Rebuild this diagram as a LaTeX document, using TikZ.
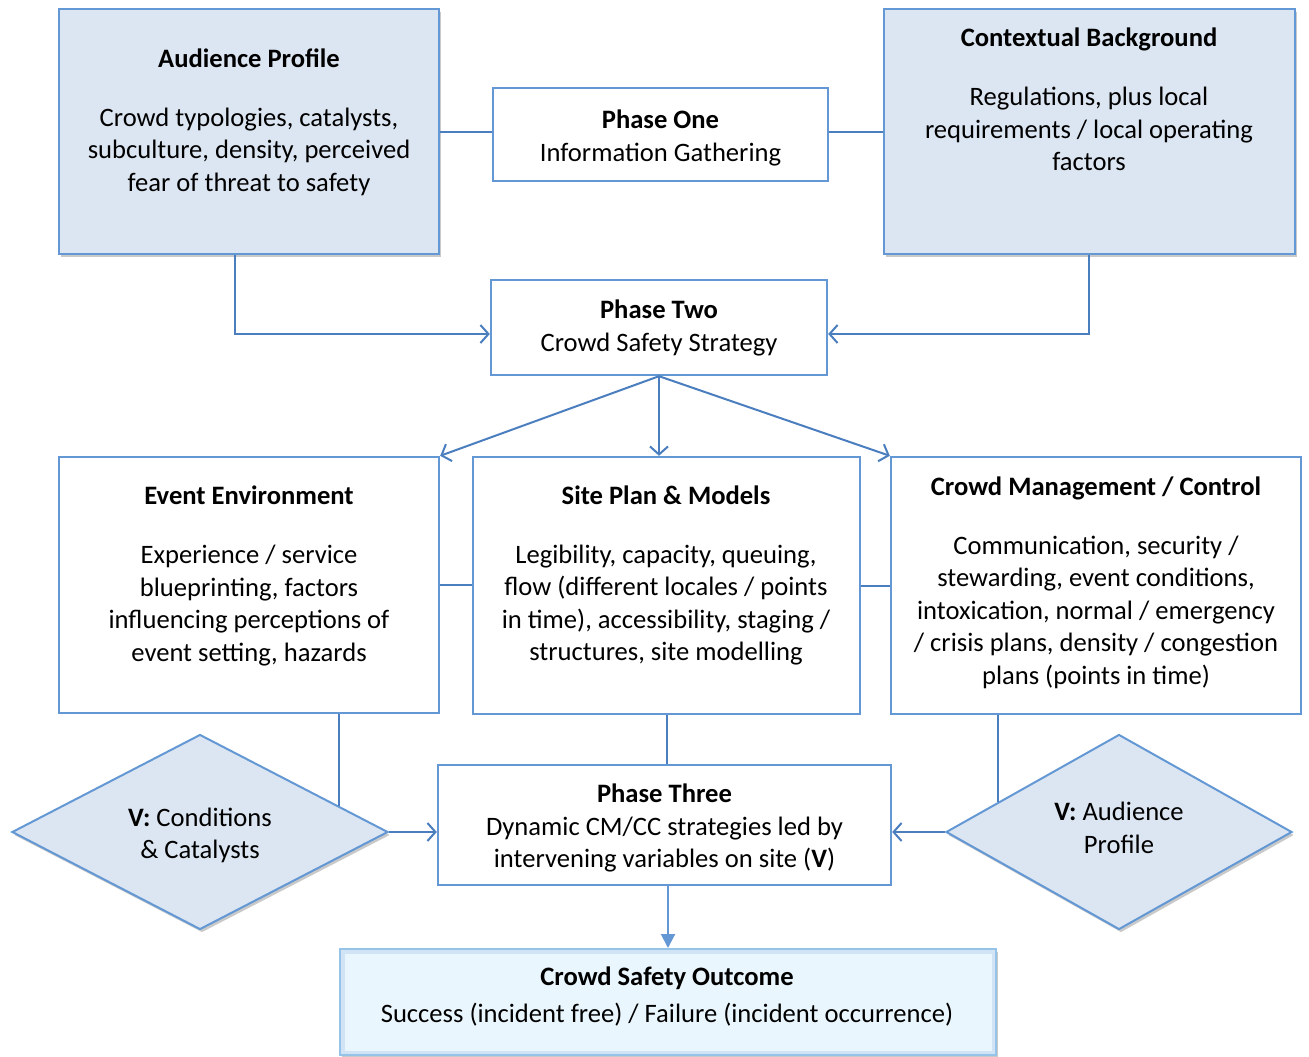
\documentclass[tikz,border=0pt]{standalone}
\usepackage{fontspec}
\setmainfont{Carlito}
\usetikzlibrary{arrows.meta,shapes.geometric,shadows,calc}
\definecolor{edge}{RGB}{99,152,212}
\definecolor{wire}{RGB}{74,126,190}
\definecolor{pale}{RGB}{220,230,242}
\definecolor{sky}{RGB}{234,246,253}
\definecolor{rim}{RGB}{150,196,232}

\begin{document}
\begin{tikzpicture}[x=1pt,y=-1pt,
  box/.style={draw=edge,line width=2.4pt,fill=white,inner sep=0,rectangle},
  shade/.style={drop shadow={shadow xshift=2pt,shadow yshift=-3pt,opacity=0.3,fill=black!70}},
  tinted/.style={box,fill=pale,shade},
  txt/.style={align=center,font=\fontsize{26.6}{32.5}\selectfont,inner sep=0},
  gem/.style={diamond,draw=edge,line width=2pt,fill=pale,inner sep=0,shade},
  wirel/.style={draw=wire,line width=2pt},
  arr/.style={wirel,-{Straight Barb[length=8pt,width=18pt,line width=2pt]}},
]
\useasboundingbox (0,0) rectangle (1309,1057);

% top row
\node[tinted,minimum width=380pt,minimum height=245pt] (ap) at (249,131.5) {};
\node[txt] (apT) at (249,122) {\textbf{Audience Profile}\\[26.5pt]Crowd typologies, catalysts,\\subculture, density, perceived\\fear of threat to safety};
\node[box,minimum width=335pt,minimum height=93pt] (p1) at (660.5,134.5) {};
\node[txt] (p1T) at (660.5,138) {\textbf{Phase One}\\Information Gathering};
\node[tinted,minimum width=411pt,minimum height=245pt] (cb) at (1089.5,131.5) {};
\node[txt] (cbT) at (1089,99.5) {\textbf{Contextual Background}\\[26.5pt]Regulations, plus local\\requirements / local operating\\factors};

% phase two
\node[box,minimum width=336pt,minimum height=95pt] (p2) at (659,327.5) {};
\node[txt] (p2T) at (659,328) {\textbf{Phase Two}\\Crowd Safety Strategy};

% middle row
\node[box,minimum width=380pt,minimum height=256pt] (ee) at (249,585) {};
\node[txt] (eeT) at (249,576) {\textbf{Event Environment}\\[26.5pt]Experience / service\\blueprinting, factors\\influencing perceptions of\\event setting, hazards};
\node[box,minimum width=387pt,minimum height=257pt] (sp) at (666.5,585.5) {};
\node[txt] (spT) at (666,575.5) {\textbf{Site Plan \& Models}\\[26.5pt]Legibility, capacity, queuing,\\flow (different locales / points\\in time), accessibility, staging /\\structures, site modelling};
\node[box,minimum width=410pt,minimum height=257pt] (cm) at (1096,585.5) {};
\node[txt] (cmT) at (1096,582.8) {\textbf{Crowd Management / Control}\\[26.5pt]Communication, security /\\stewarding, event conditions,\\intoxication, normal / emergency\\/ crisis plans, density / congestion\\plans (points in time)};

% phase three and the variables
\node[box,minimum width=453pt,minimum height=120pt] (p3) at (664.5,825) {};
\node[txt] (p3T) at (664.5,828) {\textbf{Phase Three}\\Dynamic CM/CC strategies led by\\intervening variables on site (\textbf{V})};
\node[gem,minimum width=376pt,minimum height=195pt] (dl) at (200,832) {};
\node[txt] (dlT) at (200,835.5) {\textbf{V:} Conditions\\\& Catalysts};
\node[gem,minimum width=346pt,minimum height=195pt] (dr) at (1119,832) {};
\node[txt] (drT) at (1119,828) {\textbf{V:} Audience\\Profile};

% outcome
\node[rectangle,draw=rim,line width=2pt,fill=sky,inner sep=0,shade,
  minimum width=656pt,minimum height=106pt,
  path picture={\draw[white!55!rim,line width=9pt]
    (path picture bounding box.south west) rectangle (path picture bounding box.north east);}]
  (out) at (668,1002) {};
\node[txt] (outT) at (667,996.5) {\textbf{Crowd Safety Outcome}\\[4.5pt]Success (incident free) / Failure (incident occurrence)};

% connectors
\draw[wirel] (ap.east) -- (ap.east -| p1.west);
\draw[wirel] (cb.west -| p1.east) -- (cb.west);

\coordinate (kL) at (235,334);
\coordinate (kR) at (1089,334);
\draw[arr] (ap.south -| kL) -- (kL) -- (p2.west |- kL);
\draw[arr] (cb.south -| kR) -- (kR) -- (p2.east |- kR);

\draw[arr] (p2.south) -- (ee.north east);
\draw[arr] (p2.south) -- (p2.south |- sp.north);
\draw[arr] (p2.south) -- (cm.north west);

\draw[wirel] (ee.east) -- (ee.east -| sp.west);
\draw[wirel] (sp.east) -- (sp.east -| cm.west);

\coordinate (tL) at ($(dl.north)!0.734!(dl.east)$);
\coordinate (tR) at ($(dr.west)!0.306!(dr.north)$);
\draw[wirel] (ee.south -| tL) -- (tL);
\draw[wirel] (cm.south -| tR) -- (tR);
\draw[wirel] (sp.south) -- (sp.south |- p3.north);

\draw[arr] (dl.east) -- (dl.east -| p3.west);
\draw[arr] (dr.west) -- (dr.west -| p3.east);

\draw[draw=edge,line width=2pt,-{Triangle[length=14pt,width=14pt]}] (p3.south -| out.north) -- (out.north);
\end{tikzpicture}
\end{document}
